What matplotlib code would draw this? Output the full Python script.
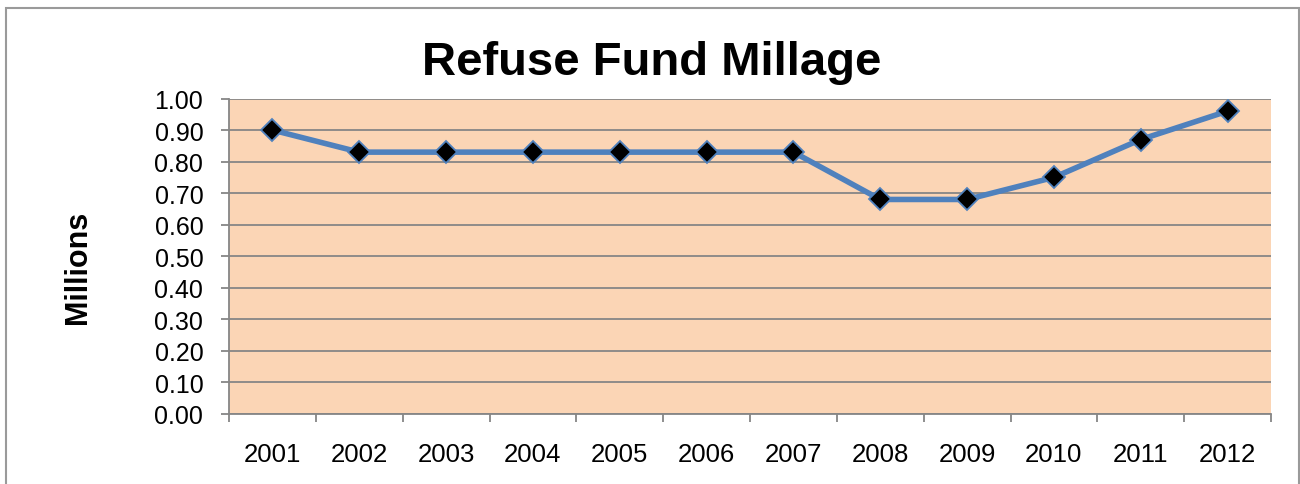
import matplotlib
matplotlib.use("Agg")
import matplotlib.pyplot as plt
from matplotlib.patches import Rectangle
import numpy as np

plt.rcParams['font.family'] = ['Liberation Sans', 'DejaVu Sans']

years = ["2001", "2002", "2003", "2004", "2005", "2006",
         "2007", "2008", "2009", "2010", "2011", "2012"]
millage = [0.90, 0.83, 0.83, 0.83, 0.83, 0.83, 0.83, 0.68, 0.68, 0.75, 0.87, 0.96]
y_ticks = [0.0, 0.1, 0.2, 0.3, 0.4, 0.5, 0.6, 0.7, 0.8, 0.9, 1.0]

grid_gray = "#868686"
line_blue = "#4f81bd"

fig = plt.figure(figsize=(13, 4.85), dpi=100)

# chart frame
fig.patches.append(Rectangle((6 / 1300, -0.05), 1293 / 1300, 1.05 - 9 / 485,
                             transform=fig.transFigure, fill=False,
                             edgecolor="#9a9a9a", linewidth=1.5))

ax = fig.add_axes([229 / 1300, 70 / 485, 1042 / 1300, 315.5 / 485])
ax.set_facecolor("#fbd5b5")

x = np.arange(len(years))
ax.plot(x, millage, color=line_blue, linewidth=4.0, marker="D",
        markersize=11, markerfacecolor="black", markeredgecolor=line_blue,
        markeredgewidth=1.3, zorder=3)

ax.set_xlim(-0.5, len(years) - 0.5)
ax.set_ylim(0, 1.0)

ax.set_yticks(y_ticks)
ax.set_yticklabels([f"{v:.2f}" for v in y_ticks])
ax.yaxis.grid(True, color=grid_gray, linewidth=1.3)
ax.set_axisbelow(True)

# ticks on the category boundaries, labels in the middle
ax.set_xticks(np.arange(-0.5, len(years), 1.0))
ax.set_xticklabels([])
ax.set_xticks(x, minor=True)
ax.set_xticklabels(years, minor=True)
ax.tick_params(axis="x", which="major", length=6, width=1.3, color=grid_gray, direction="out")
ax.tick_params(axis="x", which="minor", length=0, pad=20, labelsize=18.5)
ax.tick_params(axis="y", length=6, width=1.3, color=grid_gray, pad=12.5, labelsize=18)

for side in ["top", "right"]:
    ax.spines[side].set_visible(False)
for side in ["left", "bottom"]:
    ax.spines[side].set_color(grid_gray)
    ax.spines[side].set_linewidth(1.3)

fig.text(652 / 1300, 1 - 75 / 485, "Refuse Fund Millage", ha="center",
         va="baseline", fontsize=34, fontweight="bold")
fig.text(78 / 1300, 1 - 267 / 485, "Millions", ha="center", va="center",
         rotation=90, fontsize=22, fontweight="bold")

fig.savefig("out.png", dpi=100)
